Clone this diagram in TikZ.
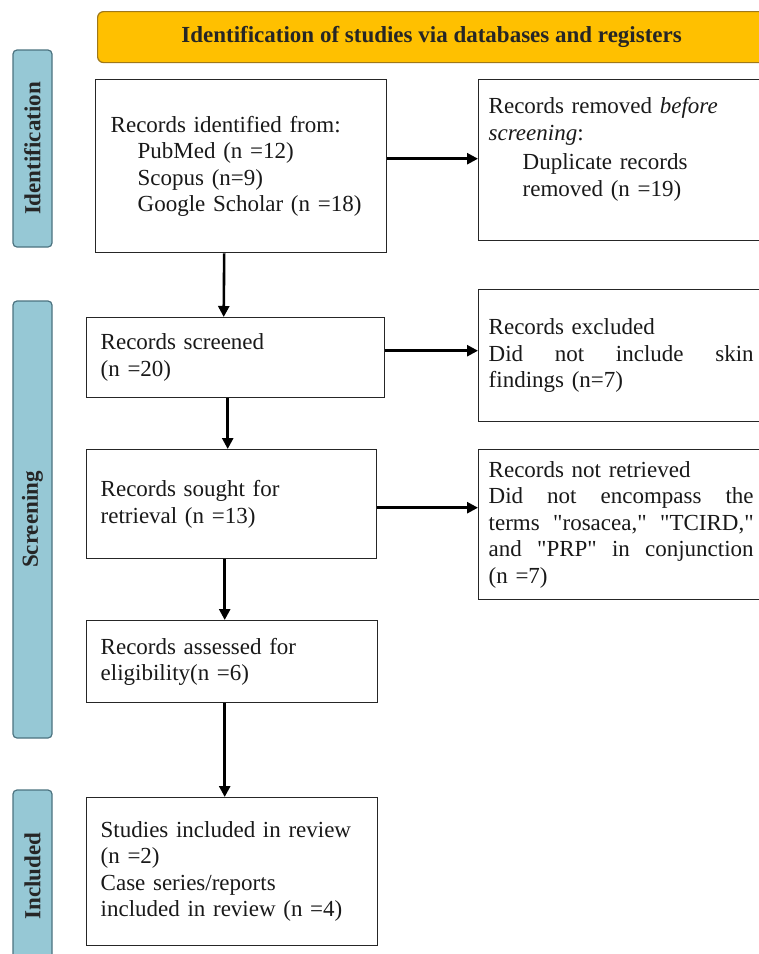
\documentclass[tikz,border=0pt]{standalone}
\usepackage{fontspec}
\setmainfont{Liberation Serif}
\newfontfamily\prismafont{Liberation Serif}
\usetikzlibrary{arrows.meta}

\definecolor{hdrfill}{HTML}{FFC000}
\definecolor{hdredge}{HTML}{A07818}
\definecolor{barfill}{HTML}{96C8D5}
\definecolor{baredge}{HTML}{4C7380}

\tikzset{
  prbox/.style={draw=black!85, line width=1.4pt, fill=white, anchor=north west, align=left,
    inner ysep=0pt, text=black!90, font=\prismafont\fontsize{23}{26.5}\selectfont},
  sidebar/.style={draw=baredge, fill=barfill, line width=1.2pt, rounded corners=4pt, rotate=90,
    minimum height=39pt, inner sep=0pt, text=black!85, font=\bfseries\fontsize{23}{26}\selectfont},
  flowarrow/.style={line width=2.6pt, -{Triangle[length=11pt,width=11pt]}},
}

\begin{document}
\begin{tikzpicture}[x=1pt, y=-1pt] % PRISMA flow
\newcommand{\indentPrismaA}{27pt}
\newcommand{\indentPrismaB}{34pt}
\clip (0,0) rectangle (759,954);
% Header
\node[draw=hdredge, fill=hdrfill, line width=1.2pt, rounded corners=6pt, anchor=north west,
  minimum width=668pt, minimum height=51pt, text=black!85, font=\bfseries\fontsize{23}{26}\selectfont]
  (header) at (97,11) {Identification of studies via databases and registers};
% Side bars
\foreach \barname/\ytop/\ybot/\bartext in {idbar/50/247/Identification, scbar/301/738/Screening, inbar/790/962/Included} {
  \node[sidebar, minimum width={(\ybot-\ytop)*1pt}] (\barname) at (32.5,{(\ytop+\ybot)/2}) {\bartext};
}
% Left column
\node[prbox, minimum width=291pt, minimum height=173pt, inner xsep=15pt, text width=261pt] (ident) at (95,79)
  {Records identified from:\\ \hspace*{\indentPrismaA}PubMed (n =12)\\ \hspace*{\indentPrismaA}Scopus (n=9)\\ \hspace*{\indentPrismaA}Google Scholar (n =18)};
\node[prbox, minimum width=298pt, minimum height=80pt, inner xsep=14pt, text width=270pt] (screened) at (86,317)
  {Records screened\\ (n =20)};
\node[prbox, minimum width=290pt, minimum height=109pt, inner xsep=14pt, text width=262pt] (sought) at (86,449)
  {Records sought for\\ retrieval (n =13)};
\node[prbox, minimum width=291pt, minimum height=82pt, inner xsep=14pt, text width=263pt] (assessed) at (86,620)
  {Records assessed for\\ eligibility(n =6)};
\node[prbox, minimum width=291pt, minimum height=148pt, inner xsep=14pt, text width=263pt] (included) at (86,797)
  {Studies included in review\\ (n =2)\\ Case series/reports\\ included in review (n =4)};
% Right column
\node[prbox, minimum height=161pt, inner xsep=10pt, text width=265pt] (removed) at (478,79)
  {Records removed \textit{before}\\ \textit{screening}:\\[3pt] \hspace*{\indentPrismaB}Duplicate records\\ \hspace*{\indentPrismaB}removed (n =19)\\ \mbox{}};
\node[prbox, minimum height=132pt, inner xsep=10pt, text width=265pt] (excluded) at (478,289)
  {Records excluded\\ Did\hfill not\hfill include\hfill skin\\ findings (n=7)};
\node[prbox, minimum height=150pt, inner xsep=10pt, text width=265pt] (notret) at (478,449)
  {Records not retrieved\\ Did\hfill not\hfill encompass\hfill the\\ terms\hfill "rosacea,"\hfill "TCIRD,"\\ and\hfill "PRP"\hfill in\hfill conjunction\\ (n =7)};
% Arrows down
\draw[flowarrow] ([xshift=-17pt]ident.south) -- ([xshift=-12pt]screened.north);
\draw[flowarrow] ([xshift=-8pt]screened.south) -- ([xshift=-4pt]sought.north);
\draw[flowarrow] ([xshift=-7pt]sought.south) -- ([xshift=-7.5pt]assessed.north);
\draw[flowarrow] ([xshift=-7.5pt]assessed.south) -- ([xshift=-7.5pt]included.north);
% Arrows right
\draw[flowarrow] ([yshift=7.5pt]ident.east) -- ([yshift=1.5pt]removed.west);
\draw[flowarrow] ([yshift=7pt]screened.east) -- ([yshift=5pt]excluded.west);
\draw[flowarrow] ([yshift=-3.5pt]sought.east) -- ([yshift=17pt]notret.west);
\end{tikzpicture}
\end{document}
